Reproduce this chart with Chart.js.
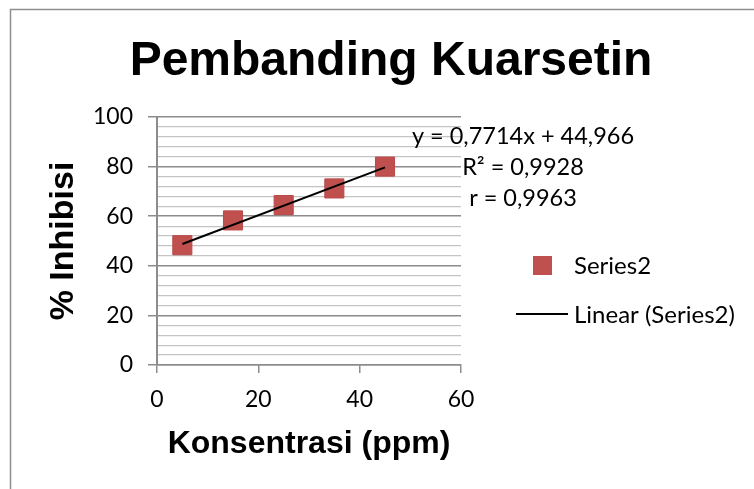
<!DOCTYPE html>
<html>
<head>
<meta charset="utf-8">
<script src="https://cdn.jsdelivr.net/npm/chart.js@4/dist/chart.umd.min.js"></script>
<style>
  body { margin: 0; background: #fff; }
  #wrap { width: 754px; height: 489px; }
</style>
</head>
<body>
<div id="wrap"><canvas id="chart" width="754" height="489"></canvas></div>
<script>
// data
const concentrations = [5, 15, 25, 35, 45];
const inhibition = [48.3, 58.3, 64.5, 71.2, 80.0];
const trendX = [5, 45];
const trendY = [48.8, 79.7];
const xTicks = [0, 20, 40, 60];
const yTicks = [0, 20, 40, 60, 80, 100];
const equationLines = ['y = 0,7714x + 44,966', 'R\u00b2 = 0,9928', 'r = 0,9963'];

const chartTitle = 'Pembanding Kuarsetin';
const xTitle = 'Konsentrasi (ppm)';
const yTitle = '% Inhibisi';

const bodyFont = 'Lato';
const boldFont = '"Liberation Sans", Arial, sans-serif';
const red = '#C0504D';

const extras = {
  id: 'extras',
  beforeDraw(chart) {
    const ctx = chart.ctx;
    ctx.save();
    ctx.fillStyle = '#fff';
    ctx.fillRect(0, 0, chart.width, chart.height);
    ctx.strokeStyle = '#8e8e8e';
    ctx.lineWidth = 1.5;
    ctx.strokeRect(10.5, 9.5, 900, 700);
    ctx.restore();
  },
  afterDraw(chart) {
    const ctx = chart.ctx;
    const ds = chart.data.datasets;
    ctx.save();

    // chart title
    ctx.fillStyle = '#000';
    ctx.font = 'bold 48px ' + boldFont;
    ctx.textAlign = 'center';
    ctx.textBaseline = 'alphabetic';
    ctx.fillText(chartTitle, 391, 75);

    // trendline label
    ctx.font = '23.5px ' + bodyFont;
    ctx.textBaseline = 'middle';
    equationLines.forEach((t, i) => ctx.fillText(t, 523, 136 + i * 31));

    // legend
    ctx.font = '24px ' + bodyFont;
    ctx.textAlign = 'left';
    ctx.fillStyle = ds[0].backgroundColor;
    ctx.fillRect(533, 256, 19, 19);
    ctx.fillStyle = '#000';
    ctx.fillText(ds[0].label, 574, 266);
    ctx.strokeStyle = ds[1].borderColor;
    ctx.lineWidth = 2;
    ctx.beginPath();
    ctx.moveTo(516, 314);
    ctx.lineTo(568, 314);
    ctx.stroke();
    ctx.fillText(ds[1].label, 574, 315);
    ctx.restore();
  }
};

const isMajor = (v) => v % 20 === 0;

new Chart(document.getElementById('chart'), {
  type: 'scatter',
  data: {
    datasets: [
      {
        label: 'Series2',
        data: concentrations.map((x, i) => ({ x: x, y: inhibition[i] })),
        backgroundColor: red,
        borderColor: '#B9494A',
        borderWidth: 1,
        pointStyle: 'rect',
        pointRadius: 13.5,
        order: 2
      },
      {
        label: 'Linear (Series2)',
        type: 'line',
        data: trendX.map((x, i) => ({ x: x, y: trendY[i] })),
        borderColor: '#000',
        borderWidth: 2,
        pointRadius: 0,
        fill: false,
        order: 1
      }
    ]
  },
  options: {
    responsive: false,
    animation: false,
    layout: { padding: { left: 0, right: 293, top: 117, bottom: 0 } },
    plugins: {
      legend: { display: false },
      tooltip: { enabled: false }
    },
    scales: {
      x: {
        type: 'linear',
        min: 0,
        max: 60,
        afterBuildTicks: (scale) => { scale.ticks = xTicks.map(v => ({ value: v })); },
        afterFit: (scale) => { scale.height = 124; },
        ticks: { color: '#000', font: { family: bodyFont, size: 23 }, padding: 13, maxRotation: 0, autoSkip: false },
        grid: { drawOnChartArea: false, tickLength: 8, color: '#8c8c8c', lineWidth: 1.5 },
        border: { color: '#8c8c8c', width: 1.5 },
        title: {
          display: true,
          text: xTitle,
          color: '#000',
          font: { family: boldFont, size: 32, weight: 'bold' },
          padding: { top: 0, bottom: 26 }
        }
      },
      y: {
        min: 0,
        max: 100,
        ticks: {
          stepSize: 4,
          autoSkip: false,
          color: '#000',
          font: { family: bodyFont, size: 23 },
          padding: 15,
          callback: (v) => (yTicks.includes(v) ? String(v) : '')
        },
        afterFit: (scale) => { scale.width = 157; },
        grid: {
          tickLength: 9,
          color: (c) => (isMajor(c.tick.value) ? '#8c8c8c' : '#c4c4c4'),
          tickColor: (c) => (isMajor(c.tick.value) ? '#8c8c8c' : 'rgba(0,0,0,0)'),
          lineWidth: (c) => (isMajor(c.tick.value) ? 1.5 : 1.2)
        },
        border: { color: '#8c8c8c', width: 2 },
        title: {
          display: true,
          text: yTitle,
          color: '#000',
          font: { family: boldFont, size: 34, weight: 'bold' },
          padding: { top: 43, bottom: 0 }
        }
      }
    }
  },
  plugins: [extras]
});
</script>
</body>
</html>
